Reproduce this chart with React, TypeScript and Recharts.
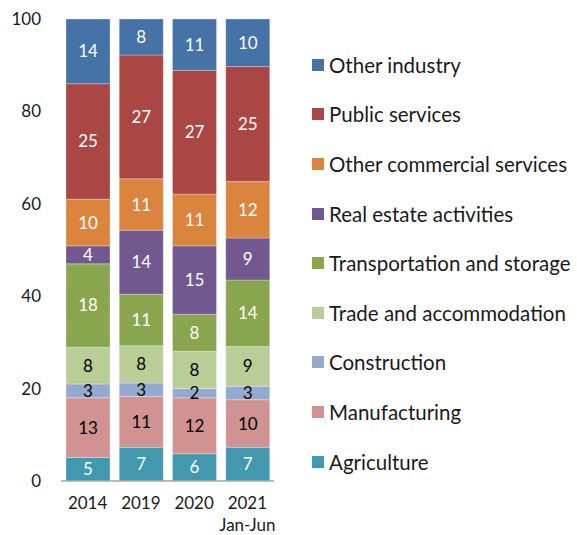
import { BarChart, Bar, XAxis, YAxis, LabelList } from 'recharts'

const years = ['2014', '2019', '2020', '2021\nJan-Jun']

// shares in % (labels are rounded)
const agriculture = [5.1, 7.3, 5.9, 7.3]
const manufacturing = [12.9, 11.0, 12.1, 10.3]
const construction = [3.0, 2.9, 2.0, 2.9]
const trade = [8.0, 8.1, 8.1, 8.6]
const transport = [18.0, 11.1, 8.0, 14.4]
const realEstate = [3.9, 13.9, 14.8, 9.1]
const otherCommercial = [10.1, 11.1, 11.2, 12.2]
const publicServices = [25.0, 26.8, 26.8, 24.9]
const otherIndustry = [14.0, 7.8, 11.1, 10.3]

const yTicks = [0, 20, 40, 60, 80, 100]

const series = [
  { key: 'agriculture', name: 'Agriculture', values: agriculture, color: '#4198af', text: '#fff' },
  { key: 'manufacturing', name: 'Manufacturing', values: manufacturing, color: '#d19392', text: '#000' },
  { key: 'construction', name: 'Construction', values: construction, color: '#93a9cf', text: '#000' },
  { key: 'trade', name: 'Trade and accommodation', values: trade, color: '#b9cd96', text: '#000' },
  { key: 'transport', name: 'Transportation and storage', values: transport, color: '#89a54e', text: '#fff' },
  { key: 'realEstate', name: 'Real estate activities', values: realEstate, color: '#71588f', text: '#fff' },
  { key: 'otherCommercial', name: 'Other commercial services', values: otherCommercial, color: '#db843d', text: '#fff' },
  { key: 'publicServices', name: 'Public services', values: publicServices, color: '#aa4643', text: '#fff' },
  { key: 'otherIndustry', name: 'Other industry', values: otherIndustry, color: '#4572a7', text: '#fff' },
]

const data = years.map((year, i) => {
  const row: any = { year }
  series.forEach((s) => {
    row[s.key] = s.values[i]
  })
  return row
})

const FONT = 'Lato, "Open Sans", sans-serif'

const YearTick = ({ x, y, payload }: any) => {
  const lines = String(payload.value).split('\n')
  return (
    <text x={x} y={y} textAnchor="middle" fontSize={17} fontFamily={FONT} fill="#1a1a1a">
      {lines.map((line, i) => (
        <tspan key={i} x={x} dy={i === 0 ? '0.71em' : 22}>
          {line}
        </tspan>
      ))}
    </text>
  )
}

// legend drawn beside the chart so it doesn't eat into the plot area
const LegendBox = () => (
  <div
    style={{
      position: 'absolute',
      left: 312,
      top: 40,
      fontFamily: FONT,
      fontSize: 20.5,
      color: '#1a1a1a',
    }}
  >
    {[...series].reverse().map((s) => (
      <div key={s.key} style={{ height: 49.6, display: 'flex', alignItems: 'center', whiteSpace: 'nowrap' }}>
        <span style={{ width: 12, height: 12, background: s.color, display: 'inline-block', marginRight: 5 }} />
        {s.name}
      </div>
    ))}
  </div>
)

export default function App() {
  return (
    <div style={{ width: 577, height: 535, position: 'relative' }}>
      <style>{'body{margin:0}'}</style>
      <BarChart
        width={577}
        height={535}
        data={data}
        margin={{ top: 19, right: 303, bottom: 0, left: 0 }}
        barSize={44}
      >
        <XAxis
          dataKey="year"
          height={54}
          tick={<YearTick />}
          tickLine={false}
          tickSize={0}
          tickMargin={16}
          axisLine={{ stroke: '#a6a6a6', strokeWidth: 1.5 }}
          interval={0}
        />
        <YAxis
          width={61}
          domain={[0, 100]}
          ticks={yTicks}
          tickLine={false}
          axisLine={false}
          tickSize={0}
          tickMargin={20}
          tick={{ fontSize: 17, fontFamily: FONT, fill: '#1a1a1a' }}
        />
        {series.map((s) => (
          <Bar
            key={s.key}
            dataKey={s.key}
            name={s.name}
            stackId="a"
            fill={s.color}
            stroke="#ffffff"
            strokeOpacity={0.35}
            strokeWidth={0.8}
            isAnimationActive={false}
          >
            <LabelList
              dataKey={s.key}
              position="center"
              formatter={(v: any) => Math.round(Number(v))}
              style={{ fontSize: 17, fontFamily: FONT, fill: s.text }}
            />
          </Bar>
        ))}
      </BarChart>
      <LegendBox />
    </div>
  )
}
